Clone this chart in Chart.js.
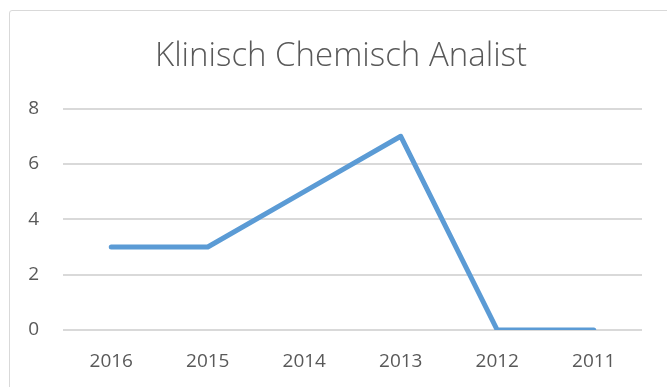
<!DOCTYPE html>
<html>
<head>
<meta charset="utf-8">
<script src="https://cdn.jsdelivr.net/npm/chart.js@4/dist/chart.umd.min.js"></script>
<style>
  html, body { margin: 0; padding: 0; background: #fff; overflow: hidden; }
  #frame {
    position: absolute; left: 9px; top: 10px; width: 700px; height: 420px;
    border: 1px solid #d9d9d9; border-radius: 3px;
  }
  #wykres { position: absolute; left: 0; top: 0; }
</style>
</head>
<body>
<div id="frame"></div>
<canvas id="wykres" width="667" height="387"></canvas>
<script>
var chartTitle = 'Klinisch Chemisch Analist';
var years = ['2016', '2015', '2014', '2013', '2012', '2011'];
var counts = [3, 3, 5, 7, 0, 0];
var yMin = 0;
var yMax = 8;
var yStep = 2;

var textColor = '#595959';
var gridColor = '#d9d9d9';

// title is centred on the outer frame, not on the canvas
var shiftTitle = {
    id: 'shiftTitle',
    afterLayout: function (chart) {
        chart.titleBlock.left += 20;
    }
};

var ctx = document.getElementById('wykres').getContext('2d');

var myChart = new Chart(ctx, {
    type: 'line',
    data: {
        labels: years,
        datasets: [{
            label: chartTitle,
            data: counts,
            borderColor: '#5b9bd5',
            backgroundColor: '#5b9bd5',
            borderWidth: 5,
            borderCapStyle: 'round',
            borderJoinStyle: 'round',
            pointRadius: 0,
            tension: 0,
            fill: false
        }]
    },
    options: {
        responsive: false,
        animation: false,
        layout: {
            padding: { left: 20, right: 25, top: 0, bottom: 0 }
        },
        plugins: {
            legend: { display: false },
            tooltip: { enabled: false },
            title: {
                display: true,
                text: chartTitle,
                color: textColor,
                font: { family: 'Open Sans', size: 33, weight: '300' },
                padding: { top: 37, bottom: 32 }
            }
        },
        scales: {
            x: {
                offset: true,
                grid: { display: false, drawTicks: false },
                border: { display: false },
                ticks: {
                    color: textColor,
                    font: { family: 'Open Sans', size: 19 },
                    padding: 20,
                    maxRotation: 0
                },
                afterFit: function (scale) { scale.height = 57; }
            },
            y: {
                min: yMin,
                max: yMax,
                grid: { color: gridColor, lineWidth: 2, drawTicks: false },
                border: { display: false },
                ticks: {
                    stepSize: yStep,
                    color: textColor,
                    font: { family: 'Open Sans', size: 19 },
                    padding: 24
                },
                afterFit: function (scale) { scale.width = 43; }
            }
        }
    },
    plugins: [shiftTitle]
});
</script>
</body>
</html>
